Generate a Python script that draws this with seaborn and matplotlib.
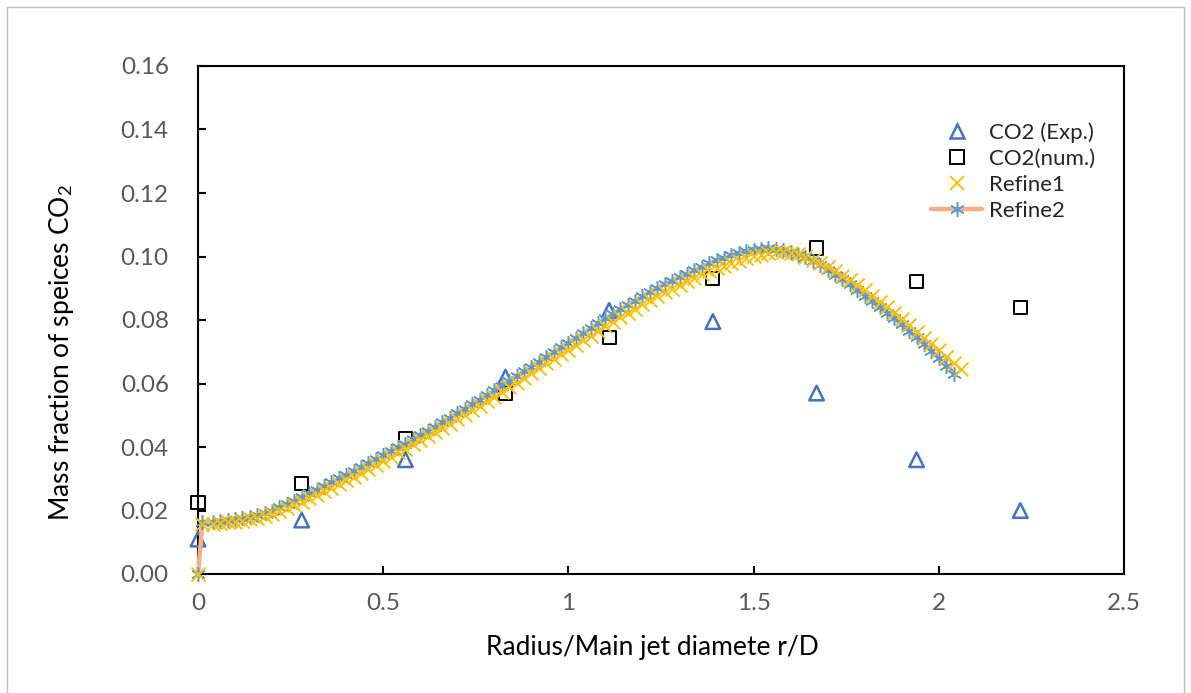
import matplotlib
matplotlib.use("Agg")
import matplotlib.pyplot as plt
from matplotlib.lines import Line2D
from matplotlib.patches import Rectangle
import seaborn as sns
import pandas as pd

# Measured CO2 mass fraction (experiment) and the CFD result at the probe radii
r_probe = [0.00, 0.28, 0.56, 0.83, 1.11, 1.39, 1.67, 1.94, 2.22]
co2_exp = [0.011, 0.017, 0.036, 0.062, 0.083, 0.0795, 0.057, 0.036, 0.020]
co2_num = [0.0225, 0.0285, 0.0425, 0.057, 0.0745, 0.093, 0.1027, 0.092, 0.084]

# Radial profile, mesh refinement 1
r_refine1 = [0.00, 0.012, 0.04, 0.06, 0.08, 0.10, 0.12, 0.14, 0.16, 0.18,
             0.20, 0.22, 0.24, 0.26, 0.28, 0.30, 0.32, 0.34, 0.36, 0.38,
             0.40, 0.42, 0.44, 0.46, 0.48, 0.50, 0.52, 0.54, 0.56, 0.58,
             0.60, 0.62, 0.64, 0.66, 0.68, 0.70, 0.72, 0.74, 0.76, 0.78,
             0.80, 0.82, 0.84, 0.86, 0.88, 0.90, 0.92, 0.94, 0.96, 0.98,
             1.00, 1.02, 1.04, 1.06, 1.08, 1.10, 1.12, 1.14, 1.16, 1.18,
             1.20, 1.22, 1.24, 1.26, 1.28, 1.30, 1.32, 1.34, 1.36, 1.38,
             1.40, 1.42, 1.44, 1.46, 1.48, 1.50, 1.52, 1.54, 1.56, 1.58,
             1.60, 1.62, 1.64, 1.66, 1.68, 1.70, 1.72, 1.74, 1.76, 1.78,
             1.80, 1.82, 1.84, 1.86, 1.88, 1.90, 1.92, 1.94, 1.96, 1.98,
             2.00, 2.02, 2.04, 2.06]
y_refine1 = [0.0000, 0.0158, 0.0159, 0.0161, 0.0163, 0.0165, 0.0168, 0.0172, 0.0177, 0.0183,
             0.0188, 0.0198, 0.0207, 0.0217, 0.0228, 0.0238, 0.0249, 0.0260, 0.0272, 0.0283,
             0.0295, 0.0307, 0.0319, 0.0331, 0.0344, 0.0357, 0.0370, 0.0383, 0.0395, 0.0408,
             0.0421, 0.0434, 0.0447, 0.0461, 0.0474, 0.0488, 0.0502, 0.0516, 0.0530, 0.0545,
             0.0559, 0.0574, 0.0589, 0.0603, 0.0618, 0.0633, 0.0648, 0.0663, 0.0677, 0.0692,
             0.0707, 0.0722, 0.0737, 0.0751, 0.0766, 0.0780, 0.0794, 0.0808, 0.0822, 0.0835,
             0.0849, 0.0862, 0.0875, 0.0887, 0.0899, 0.0911, 0.0922, 0.0933, 0.0944, 0.0953,
             0.0963, 0.0971, 0.0980, 0.0987, 0.0994, 0.1001, 0.1006, 0.1010, 0.1013, 0.1014,
             0.1012, 0.1007, 0.0999, 0.0990, 0.0979, 0.0968, 0.0954, 0.0940, 0.0925, 0.0909,
             0.0893, 0.0876, 0.0858, 0.0840, 0.0822, 0.0803, 0.0783, 0.0763, 0.0743, 0.0723,
             0.0704, 0.0685, 0.0666, 0.0647]

# Radial profile, mesh refinement 2
r_refine2 = [0.00, 0.012, 0.04, 0.06, 0.08, 0.10, 0.12, 0.14, 0.16, 0.18,
             0.20, 0.22, 0.24, 0.26, 0.28, 0.30, 0.32, 0.34, 0.36, 0.38,
             0.40, 0.42, 0.44, 0.46, 0.48, 0.50, 0.52, 0.54, 0.56, 0.58,
             0.60, 0.62, 0.64, 0.66, 0.68, 0.70, 0.72, 0.74, 0.76, 0.78,
             0.80, 0.82, 0.84, 0.86, 0.88, 0.90, 0.92, 0.94, 0.96, 0.98,
             1.00, 1.02, 1.04, 1.06, 1.08, 1.10, 1.12, 1.14, 1.16, 1.18,
             1.20, 1.22, 1.24, 1.26, 1.28, 1.30, 1.32, 1.34, 1.36, 1.38,
             1.40, 1.42, 1.44, 1.46, 1.48, 1.50, 1.52, 1.54, 1.56, 1.58,
             1.60, 1.62, 1.64, 1.66, 1.68, 1.70, 1.72, 1.74, 1.76, 1.78,
             1.80, 1.82, 1.84, 1.86, 1.88, 1.90, 1.92, 1.94, 1.96, 1.98,
             2.00, 2.02, 2.04]
y_refine2 = [0.0000, 0.0164, 0.0165, 0.0167, 0.0169, 0.0172, 0.0176, 0.0179, 0.0185, 0.0192,
             0.0200, 0.0210, 0.0220, 0.0231, 0.0243, 0.0255, 0.0266, 0.0277, 0.0289, 0.0301,
             0.0313, 0.0325, 0.0338, 0.0350, 0.0363, 0.0376, 0.0388, 0.0399, 0.0410, 0.0424,
             0.0437, 0.0451, 0.0464, 0.0478, 0.0492, 0.0506, 0.0520, 0.0535, 0.0549, 0.0564,
             0.0578, 0.0593, 0.0608, 0.0623, 0.0638, 0.0653, 0.0668, 0.0683, 0.0699, 0.0714,
             0.0729, 0.0744, 0.0759, 0.0774, 0.0789, 0.0805, 0.0819, 0.0834, 0.0848, 0.0861,
             0.0875, 0.0888, 0.0901, 0.0913, 0.0924, 0.0936, 0.0946, 0.0957, 0.0967, 0.0978,
             0.0988, 0.0996, 0.1004, 0.1011, 0.1017, 0.1022, 0.1025, 0.1026, 0.1025, 0.1020,
             0.1014, 0.1006, 0.0997, 0.0986, 0.0973, 0.0958, 0.0943, 0.0928, 0.0912, 0.0894,
             0.0877, 0.0859, 0.0842, 0.0823, 0.0805, 0.0786, 0.0766, 0.0746, 0.0725, 0.0703,
             0.0680, 0.0655, 0.0630]

series_labels = ["CO2 (Exp.)", "CO2(num.)", "Refine1", "Refine2"]
x_ticks = [0, 0.5, 1, 1.5, 2, 2.5]
x_tick_labels = ["0", "0.5", "1", "1.5", "2", "2.5"]
y_ticks = [0.00, 0.02, 0.04, 0.06, 0.08, 0.10, 0.12, 0.14, 0.16]
y_tick_labels = ["0.00", "0.02", "0.04", "0.06", "0.08", "0.10", "0.12", "0.14", "0.16"]

C_TRI = "#4472C4"
C_SQ = "#000000"
C_X = "#FFC000"
C_AST = "#5B9BD5"
C_LINE = "#F4B183"
C_TEXT = "#595959"

sns.set_theme(style="white")
plt.rcParams["font.family"] = ["Lato", "DejaVu Sans"]
plt.rcParams["mathtext.fontset"] = "custom"
plt.rcParams["mathtext.rm"] = "Lato"
plt.rcParams["mathtext.it"] = "Lato:italic"

W, H = 1191, 693
fig = plt.figure(figsize=(W / 100, H / 100), dpi=100)
ax = fig.add_axes([198 / W, 1 - 574 / H, (1124 - 198) / W, (574 - 66) / H])

probe = pd.DataFrame({"r": r_probe, "exp": co2_exp, "num": co2_num})
ref1 = pd.DataFrame({"r": r_refine1, "y": y_refine1})
ref2 = pd.DataFrame({"r": r_refine2, "y": y_refine2})

TRI_MS, SQ_MS, X_MS, AST_MS = 10.5, 9.5, 10.0, 10.5
AST = (6, 2, 0)

sns.scatterplot(data=probe, x="r", y="exp", ax=ax, marker="^", s=TRI_MS ** 2,
                facecolor="none", edgecolor=C_TRI, linewidth=1.8, zorder=3,
                clip_on=False)
sns.scatterplot(data=probe, x="r", y="num", ax=ax, marker="s", s=SQ_MS ** 2,
                facecolor="none", edgecolor=C_SQ, linewidth=1.4, zorder=3,
                clip_on=False)
sns.lineplot(data=ref2, x="r", y="y", ax=ax, sort=False, estimator=None,
             color=C_LINE, linewidth=3.2, marker=AST, markersize=AST_MS,
             markeredgecolor=C_AST, markerfacecolor=C_AST, markeredgewidth=1.1,
             zorder=4, clip_on=False)
sns.scatterplot(data=ref1, x="r", y="y", ax=ax, marker="x", s=X_MS ** 2,
                color=C_X, linewidth=1.4, zorder=5, clip_on=False)

ax.set_xlim(0, 2.5)
ax.set_ylim(0, 0.16)
ax.set_xticks(x_ticks)
ax.set_xticklabels(x_tick_labels)
ax.set_yticks(y_ticks)
ax.set_yticklabels(y_tick_labels)
ax.tick_params(axis="both", direction="in", length=6, width=1.5, color="black",
               labelsize=17.5, labelcolor=C_TEXT, bottom=True, left=True)
ax.tick_params(axis="y", pad=21)
ax.tick_params(axis="x", pad=14)
for sp in ax.spines.values():
    sp.set_visible(True)
    sp.set_color("black")
    sp.set_linewidth(1.5)

ax.set_xlabel("Radius/Main jet diamete r/D", fontsize=19, color="black")
ax.set_ylabel("Mass fraction of speices CO$_2$", fontsize=19, color="black")
ax.xaxis.label.set_va("center")
ax.yaxis.label.set_va("center")
ax.xaxis.set_label_coords((652 - 198) / 926, (574 - 648) / 508)
ax.yaxis.set_label_coords((62 - 198) / 926, (574 - 353) / 508)

handles = [
    Line2D([], [], ls="none", marker="^", ms=TRI_MS, mfc="none", mec=C_TRI, mew=1.8),
    Line2D([], [], ls="none", marker="s", ms=SQ_MS, mfc="none", mec=C_SQ, mew=1.4),
    Line2D([], [], ls="none", marker="x", ms=X_MS, mec=C_X, mew=1.4),
    Line2D([], [], color=C_LINE, lw=3.2, marker=AST, ms=AST_MS, mec=C_AST, mew=1.1),
]
fig.legend(handles, series_labels, loc="upper left",
           bbox_to_anchor=(931 / W, 1 - 122 / H), frameon=False,
           fontsize=16, handlelength=2.3, handletextpad=0.3, labelspacing=0.28,
           borderaxespad=0, borderpad=0)

# Light grey chart-area frame
fig.patches.append(Rectangle((7 / W, -0.05), (1184 - 7) / W, 1 - 7 / H + 0.05,
                             transform=fig.transFigure, fill=False,
                             edgecolor="#BFBFBF", linewidth=1.0))

fig.savefig("out.png", dpi=100)
